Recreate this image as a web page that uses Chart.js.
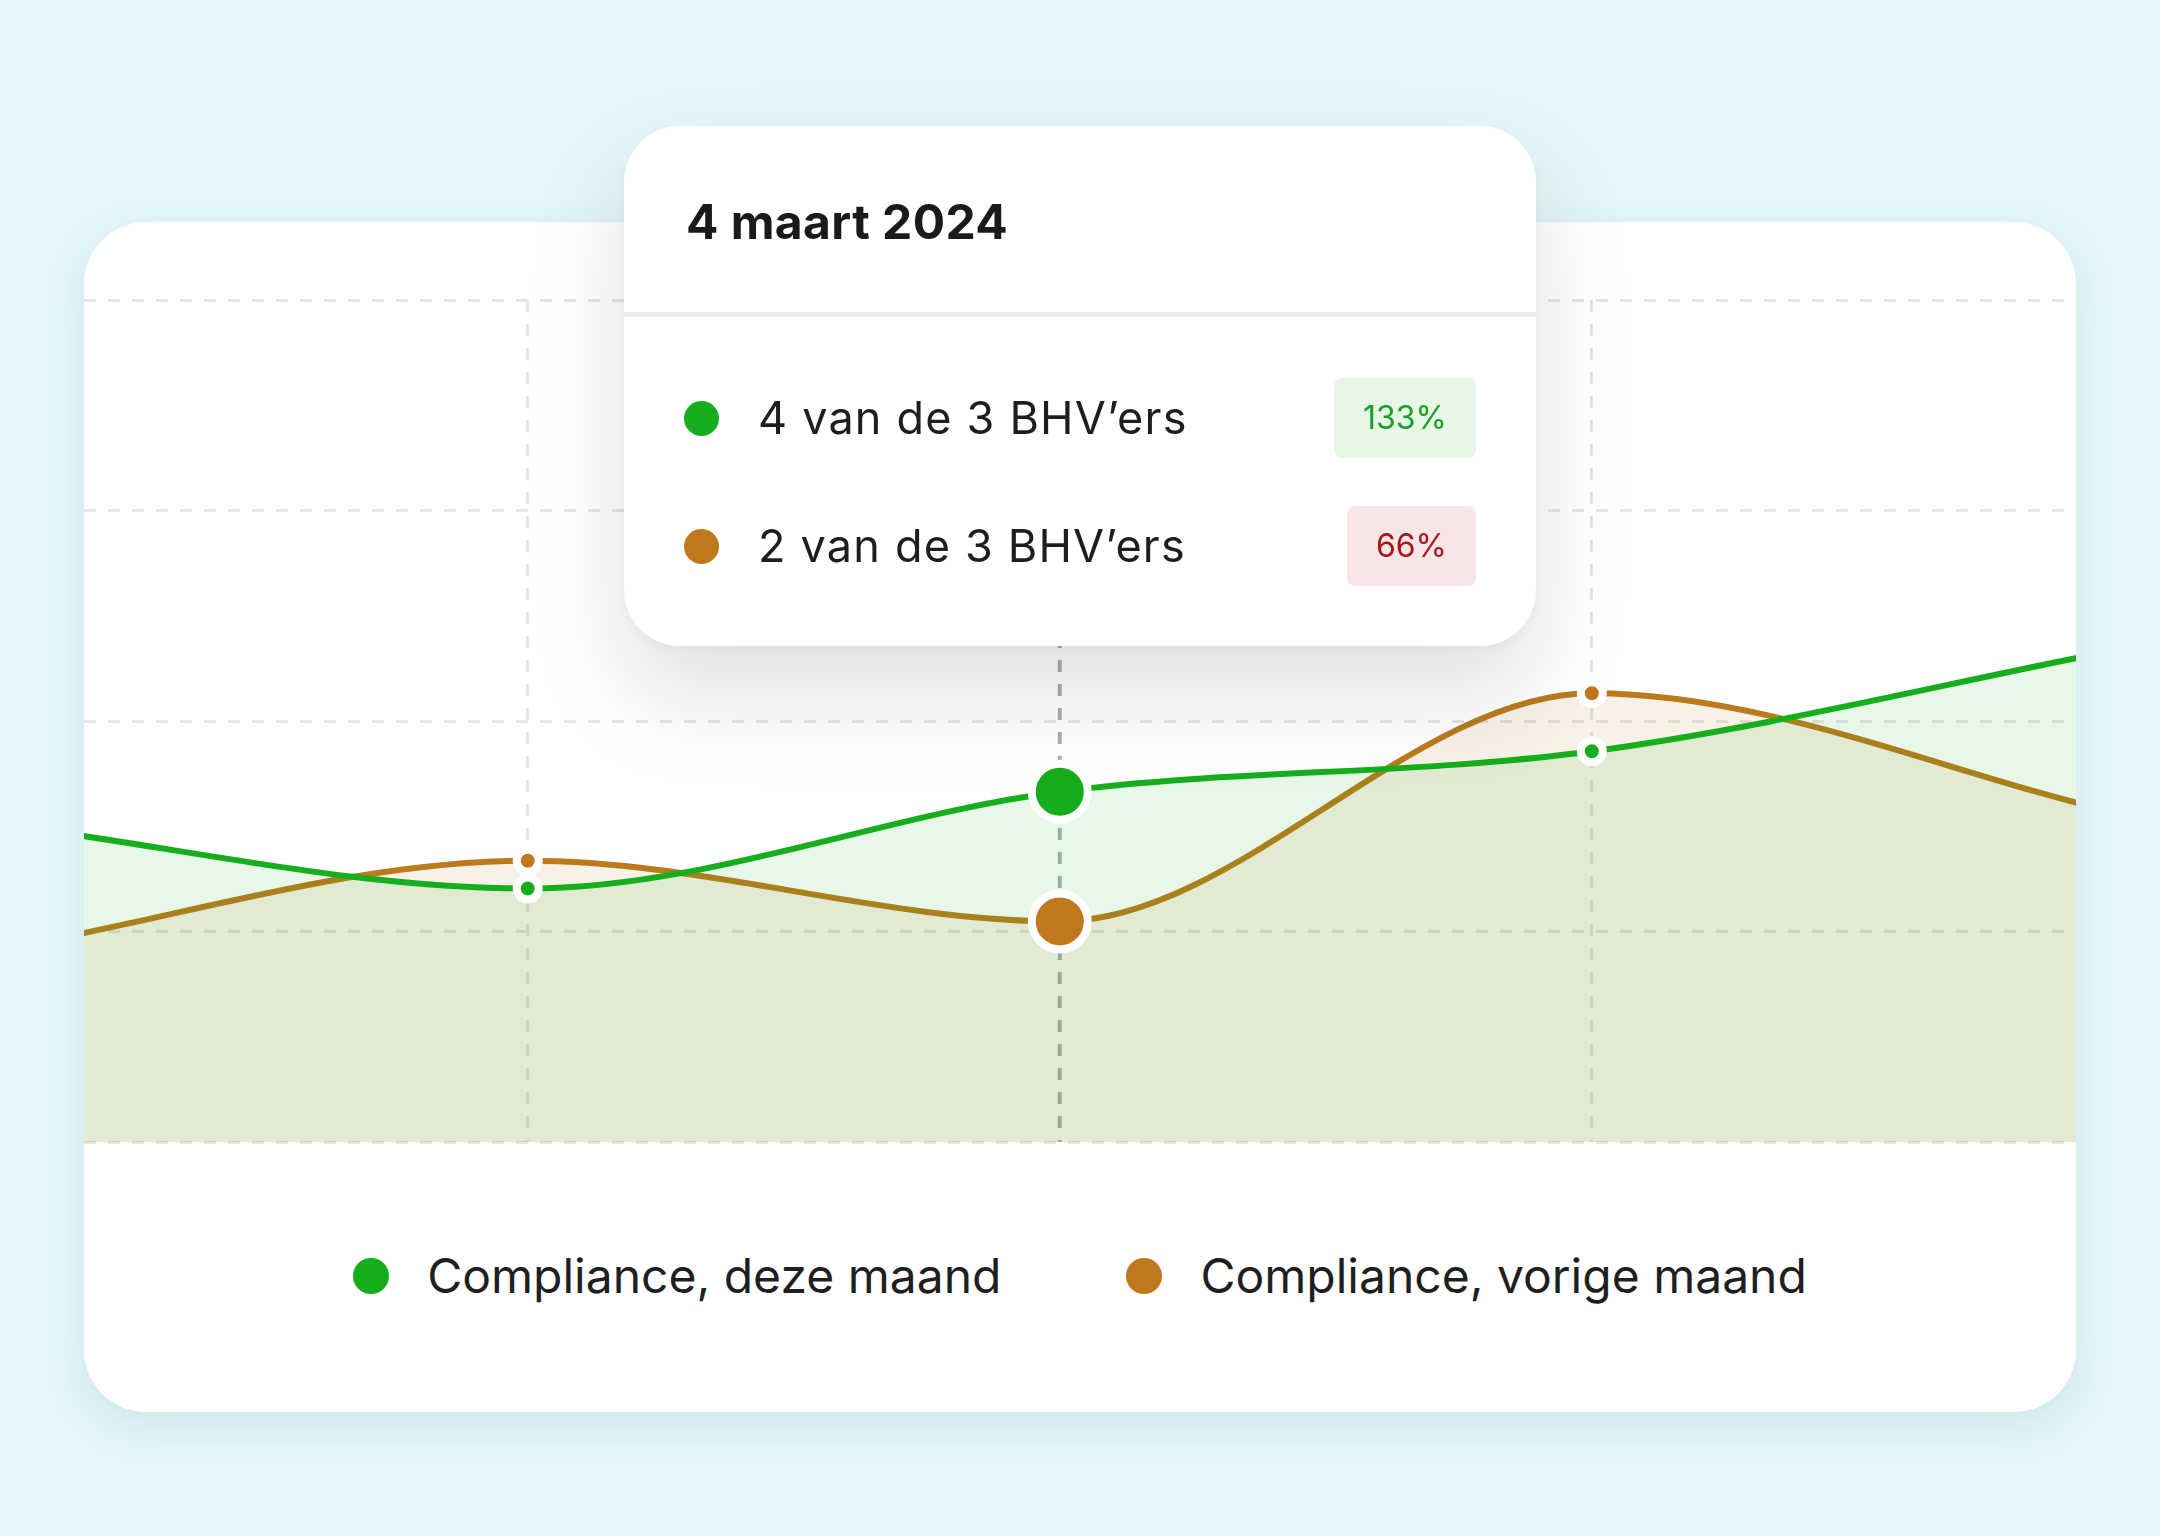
<!DOCTYPE html>
<html>
<head>
<meta charset="utf-8">
<script src="https://cdn.jsdelivr.net/npm/chart.js@4.4.1/dist/chart.umd.min.js"></script>
<style>
  html, body { margin:0; padding:0; width:2160px; height:1536px; overflow:hidden; background:#E4F6FA; font-family: Inter, "Noto Sans", sans-serif; }
  #card { position:absolute; left:84px; top:222px; width:1992px; height:1190px; background:#fff; border-radius:62px; overflow:hidden; box-shadow:0 14px 40px rgba(30,100,120,0.10); }
  #wrap { position:absolute; left:0; top:0; width:1992px; height:930px; }
  #legend { position:absolute; left:0; right:0; top:1024px; height:60px; display:flex; justify-content:center; align-items:center; }
  .li { display:flex; align-items:center; font-size:48px; line-height:60px; color:#1f1f1f; white-space:nowrap; }
  .li .dot { width:36px; height:36px; border-radius:50%; margin-right:38px; }
  .li + .li { margin-left:125px; }
  #tt { position:absolute; left:624px; top:126px; width:912px; height:520px; background:#fff; border-radius:56px; box-shadow:0 50px 100px rgba(0,0,0,0.12), 0 4px 16px rgba(0,0,0,0.04); }
  .ttitle { position:absolute; left:62px; top:72px; font-size:48px; line-height:48px; font-weight:700; color:#1a1a1a; white-space:nowrap; letter-spacing:0.4px; }
  .tdiv { position:absolute; left:0; right:0; top:186px; height:5px; background:#EDEDEF; }
  .trow { position:absolute; left:60px; right:60px; height:80px; display:flex; align-items:center; }
  .tdot { width:35px; height:35px; border-radius:50%; margin-right:39px; flex:none; }
  .ttext { flex:1; font-size:45px; line-height:50px; letter-spacing:1.2px; color:#1e1e1e; white-space:nowrap; }
  .badge { height:80px; padding:0 29px; border-radius:8px; display:flex; align-items:center; font-size:32px; line-height:40px; }
</style>
</head>
<body>
<div id="card">
  <div id="wrap"><canvas id="c"></canvas></div>
  <div id="legend"></div>
</div>
<div id="tt"></div>
<script>
// ---- data ----
const xPositions = [0, 1, 2, 3, 4];
const greenValues = [37.8, 30.1, 41.6, 46.4, 58.6];
const brownValues = [22.8, 33.4, 26.2, 53.3, 38.9];
const yTicks = [0, 25, 50, 75, 100];
const xTicks = [1, 2, 3];
const seriesLabels = ['Compliance, deze maand', 'Compliance, vorige maand'];
const markedPoints = [1, 2, 3];
const activeIndex = 2;
const tooltipTitle = '4 maart 2024';
const tooltipCounts = [4, 2];
const tooltipTotal = 3;
const tooltipPercents = ['133%', '66%'];

// ---- styles ----
const lineColors = ['#16AE1D', '#BB7B1D'];
const pointColors = ['#16AD1D', '#BF781B'];
const fillColors = ['rgba(20,174,26,0.10)', 'rgba(190,122,30,0.10)'];
const badgeStyles = [
  { bg:'#E6F7E6', fg:'#1B9E25' },
  { bg:'#F8E6E7', fg:'#A8161A' }
];

const marksPlugin = {
  id: 'marks',
  beforeDatasetsDraw(chart) {
    const ctx = chart.ctx;
    const x = chart.scales.x.getPixelForValue(xPositions[activeIndex]);
    const { top, bottom } = chart.chartArea;
    ctx.save();
    ctx.setLineDash([12, 12]);
    ctx.strokeStyle = '#A7AFB5';
    ctx.lineWidth = 4;
    ctx.beginPath();
    ctx.moveTo(x, top);
    ctx.lineTo(x, bottom);
    ctx.stroke();
    ctx.restore();
  },
  afterDatasetsDraw(chart) {
    const ctx = chart.ctx;
    ctx.save();
    [1, 0].forEach(di => {
      const meta = chart.getDatasetMeta(di);
      markedPoints.forEach(i => {
        const el = meta.data[i];
        const r = i === activeIndex ? 28 : 11;
        ctx.beginPath();
        ctx.arc(el.x, el.y, r, 0, Math.PI * 2);
        ctx.fillStyle = pointColors[di];
        ctx.fill();
        ctx.lineWidth = 8;
        ctx.strokeStyle = '#ffffff';
        ctx.stroke();
      });
    });
    ctx.restore();
  }
};

const seriesValues = [greenValues, brownValues];

const chart = new Chart(document.getElementById('c'), {
  type: 'line',
  data: {
    datasets: seriesValues.map((vals, di) => ({
      label: seriesLabels[di],
      data: xPositions.map((x, i) => ({ x, y: vals[i] })),
      borderColor: lineColors[di],
      backgroundColor: fillColors[di],
      borderWidth: 6,
      fill: 'origin',
      cubicInterpolationMode: 'monotone',
      pointRadius: 0,
      pointHoverRadius: 0
    }))
  },
  options: {
    responsive: true,
    maintainAspectRatio: false,
    animation: false,
    events: [],
    layout: { padding: { top: 78, bottom: 10, left: 0, right: 0 } },
    elements: { line: { capBezierPoints: false } },
    plugins: { legend: { display: false }, tooltip: { enabled: false } },
    scales: {
      x: {
        type: 'linear',
        min: 0.166,
        max: 3.910,
        afterBuildTicks: s => { s.ticks = xTicks.map(v => ({ value: v })); },
        ticks: { display: false },
        grid: { color: '#E6E6E6', lineWidth: 3, drawTicks: false },
        border: { display: false, dash: [12, 12] }
      },
      y: {
        min: 0,
        max: 100,
        afterBuildTicks: s => { s.ticks = yTicks.map(v => ({ value: v })); },
        ticks: { display: false },
        grid: { color: '#E6E6E6', lineWidth: 3, drawTicks: false },
        border: { display: false, dash: [12, 12] }
      }
    }
  },
  plugins: [marksPlugin]
});

// ---- legend (from datasets) ----
const legend = document.getElementById('legend');
chart.data.datasets.forEach((ds, di) => {
  const item = document.createElement('div');
  item.className = 'li';
  const dot = document.createElement('span');
  dot.className = 'dot';
  dot.style.background = pointColors[di];
  const txt = document.createElement('span');
  txt.textContent = ds.label;
  item.appendChild(dot);
  item.appendChild(txt);
  legend.appendChild(item);
});

// ---- tooltip ----
const tt = document.getElementById('tt');
const title = document.createElement('div');
title.className = 'ttitle';
title.textContent = tooltipTitle;
tt.appendChild(title);
const div = document.createElement('div');
div.className = 'tdiv';
tt.appendChild(div);
tooltipCounts.forEach((cnt, di) => {
  const row = document.createElement('div');
  row.className = 'trow';
  row.style.top = (252 + di * 128) + 'px';
  const dot = document.createElement('span');
  dot.className = 'tdot';
  dot.style.background = pointColors[di];
  const txt = document.createElement('span');
  txt.className = 'ttext';
  txt.textContent = cnt + ' van de ' + tooltipTotal + ' BHV\u2019ers';
  const badge = document.createElement('span');
  badge.className = 'badge';
  badge.style.background = badgeStyles[di].bg;
  badge.style.color = badgeStyles[di].fg;
  badge.textContent = tooltipPercents[di];
  row.appendChild(dot); row.appendChild(txt); row.appendChild(badge);
  tt.appendChild(row);
});
</script>
</body>
</html>
